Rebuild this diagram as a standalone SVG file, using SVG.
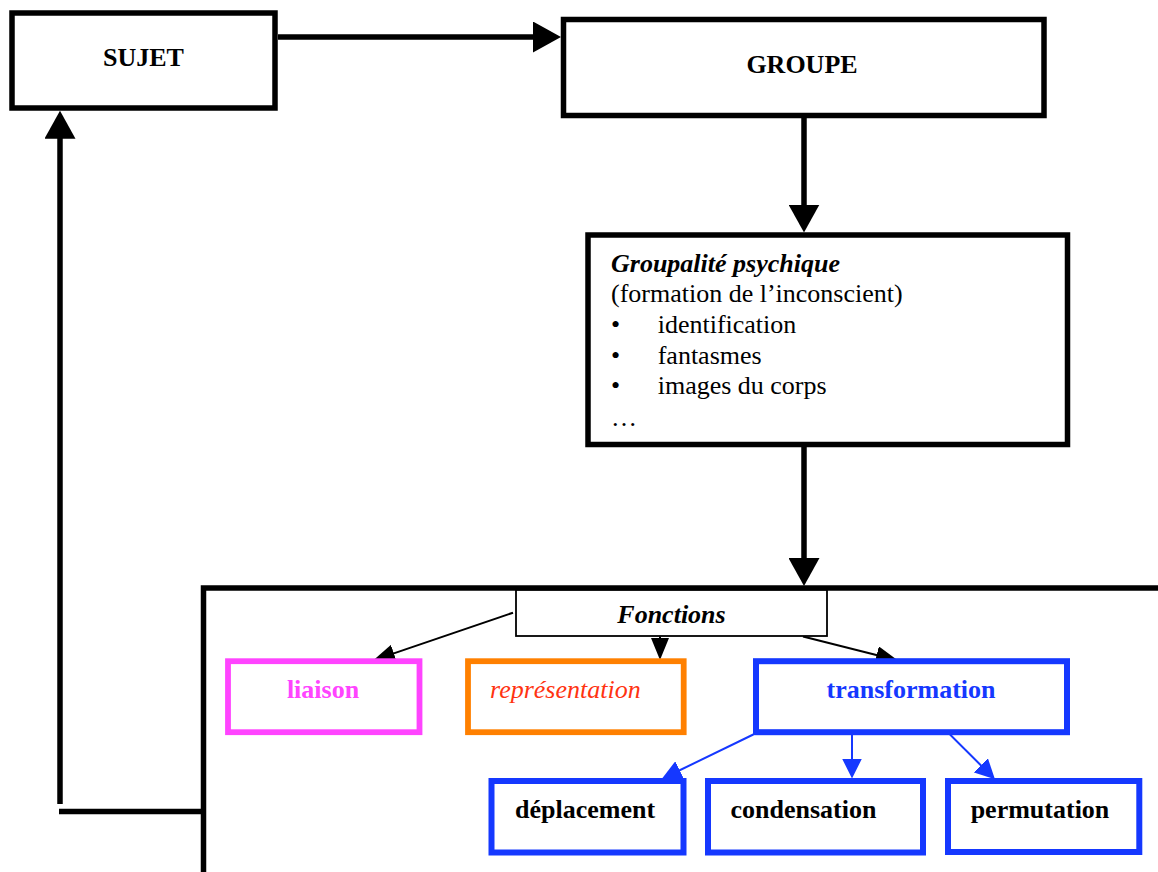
<svg xmlns="http://www.w3.org/2000/svg" width="1158" height="872" viewBox="0 0 1158 872">
<style>
  text { font-family: "Liberation Serif", "Times New Roman", serif; font-size: 26px; fill: #000; }
  .b { font-weight: bold; }
  .i { font-style: italic; }
  .mid { text-anchor: middle; }
  .box { fill: #fff; stroke: #000; stroke-width: 5.5; }
  .thin { fill: #fff; stroke: #000; stroke-width: 1.8; }
  .pink { fill: #fff; stroke: #FF44FF; stroke-width: 5.8; }
  .orange { fill: #fff; stroke: #FF8000; stroke-width: 5.8; }
  .blue { fill: #fff; stroke: #1538FF; stroke-width: 6; }
  .thick { fill: none; stroke: #000; stroke-width: 5.5; }
  .arr { fill: none; stroke: #000; stroke-width: 2; }
  .barr { fill: none; stroke: #1538FF; stroke-width: 2; }
</style>
<defs>
  <marker id="ah" markerUnits="userSpaceOnUse" viewBox="0 0 28 31" refX="18" refY="15.5" markerWidth="28" markerHeight="31" orient="auto">
    <path d="M0,0 L28,15.5 L0,31 Z" fill="#000"/>
  </marker>
  <marker id="ahs" markerUnits="userSpaceOnUse" viewBox="0 0 22 18" refX="14" refY="9" markerWidth="22" markerHeight="18" orient="auto">
    <path d="M0,0 L22,9 L0,18 Z" fill="#000"/>
  </marker>
  <marker id="ahb" markerUnits="userSpaceOnUse" viewBox="0 0 20 20" refX="12" refY="10" markerWidth="20" markerHeight="20" orient="auto">
    <path d="M0,0 L20,10 L0,20 Z" fill="#1538FF"/>
  </marker>
</defs>

<g id="cadre-fonctions">
  <path class="thick" d="M203.5,876 V588 H1162" stroke-linejoin="miter"/>
</g>

<g id="connecteurs">
  <path class="thick" d="M278,37 H551" marker-end="url(#ah)"/>
  <path class="thick" d="M804,118 V222.5" marker-end="url(#ah)"/>
  <path class="thick" d="M804,447 V576" marker-end="url(#ah)"/>
  <path class="thick" d="M59,811.5 H204"/>
  <path class="thick" d="M60,804 V120.7" marker-end="url(#ah)"/>
  <path class="arr" d="M513,612.7 L380.6,657.9" marker-end="url(#ahs)"/>
  <path class="arr" d="M660,636.5 V652" marker-end="url(#ahs)"/>
  <path class="arr" d="M803,636.5 L890.2,658.5" marker-end="url(#ahs)"/>
  <path class="barr" d="M753.3,734.5 L668.9,775.5" marker-end="url(#ahb)"/>
  <path class="barr" d="M852,735 V770.5" marker-end="url(#ahb)"/>
  <path class="barr" d="M950,734.5 L989.3,773.7" marker-end="url(#ahb)"/>
</g>

<g id="sujet">
  <rect class="box" x="12" y="13" width="263" height="95"/>
  <text class="b mid" x="143.5" y="65.5">SUJET</text>
</g>

<g id="groupe">
  <rect class="box" x="563.5" y="19.5" width="480.5" height="96"/>
  <text class="b mid" x="802" y="72.5">GROUPE</text>
</g>

<g id="groupalite">
  <rect class="box" x="588" y="235" width="479.5" height="209.5"/>
  <text class="b i" x="611" y="271.7">Groupalité psychique</text>
  <text x="611" y="301.7">(formation de l’inconscient)</text>
  <text x="611" y="333">•</text>
  <text x="657.7" y="333">identification</text>
  <text x="611" y="364">•</text>
  <text x="657.7" y="364">fantasmes</text>
  <text x="611" y="394.3">•</text>
  <text x="657.7" y="394.3">images du corps</text>
  <text x="611" y="426">…</text>
</g>

<g id="fonctions">
  <rect class="thin" x="516" y="590" width="311" height="46"/>
  <text class="b i mid" x="671.5" y="623">Fonctions</text>
</g>

<g id="liaison">
  <rect class="pink" x="228" y="661.2" width="191.5" height="71"/>
  <text class="b mid" x="323" y="698.3" style="fill:#FF44FF">liaison</text>
</g>

<g id="representation">
  <rect class="orange" x="468" y="661.2" width="215.7" height="71"/>
  <text class="i" x="490" y="698.3" style="fill:#FF3311">représentation</text>
</g>

<g id="transformation">
  <rect class="blue" x="756" y="661.2" width="311" height="71"/>
  <text class="b mid" x="911" y="697.7" style="fill:#1538FF">transformation</text>
</g>

<g id="deplacement">
  <rect class="blue" x="491.5" y="781" width="192" height="71.5"/>
  <text class="b mid" x="585" y="818.3">déplacement</text>
</g>

<g id="condensation">
  <rect class="blue" x="708" y="781" width="215" height="71.5"/>
  <text class="b mid" x="803.5" y="818.3">condensation</text>
</g>

<g id="permutation">
  <rect class="blue" x="948" y="781" width="191.3" height="71"/>
  <text class="b mid" x="1040" y="817.7">permutation</text>
</g>
</svg>
